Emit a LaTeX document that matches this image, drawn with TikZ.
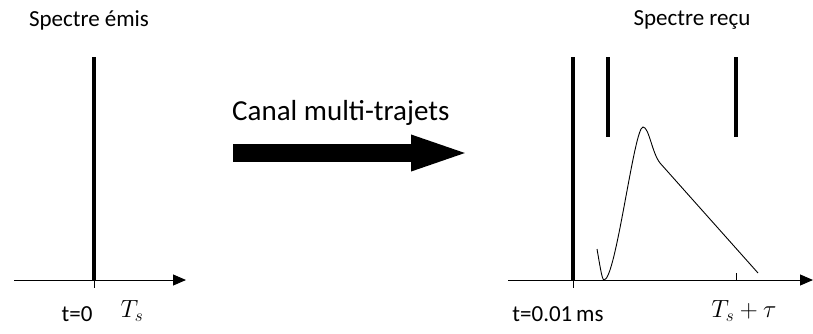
\documentclass[tikz,border=0pt]{standalone}
\usepackage{fontspec}
\setmainfont{Carlito}
\usetikzlibrary{arrows.meta}

\tikzset{
    axis/.style={line width=1pt, -{Triangle[length=13pt, width=11pt]}},
    spike/.style={line width=4.5pt},
    tick/.style={line width=0.8pt},
    axislabel/.style={font=\fontsize{23}{27}\selectfont, inner sep=1pt},
    mathlabel/.style={font=\fontsize{25}{28}\selectfont, inner sep=1pt},
}

\begin{document}
\begin{tikzpicture}[x=1pt, y=-1pt]
    \useasboundingbox (0,0) rectangle (813,333);

    % Emitted signal
    \begin{scope}
        % Axes
        \coordinate (e0) at (14,280);
        \coordinate (e1) at (186,280);
        \draw[axis] (e0) -- (e1);
        \coordinate (etop) at (94,57);
        \coordinate (ebot) at (94,280);
        \coordinate (etick) at (94,288);
        \draw[spike] (etop) -- (ebot);
        \draw[tick] (ebot) -- (etick);

        \node[axislabel] (emis) at (89,20) {Spectre émis};
        \node[axislabel] (tzero) at (77,314) {t=0};
        \node[mathlabel] (ts) at (132,311) {$T_s$};
    \end{scope}

    % Channel arrow
    \coordinate (c0) at (233,153);
    \coordinate (c1) at (473,153);
    \draw[line width=18pt, -{Triangle[length=62pt, width=31pt]}] (c0) -- (c1);
    \node[font=\fontsize{29}{33}\selectfont, anchor=west, inner sep=0pt] (canal) at (232,113) {Canal multi-trajets};

    % Received signal
    \begin{scope}
        % Axes
        \coordinate (r0) at (508,280);
        \coordinate (r1) at (813,280);
        \draw[axis] (r0) -- (r1);
        \coordinate (rtop) at (573,57);
        \coordinate (rbot) at (573,280);
        \coordinate (rtick) at (573,288);
        \draw[spike] (rtop) -- (rbot);
        \draw[tick] (rbot) -- (rtick);

        % echoes
        \coordinate (atop) at (608,57);
        \coordinate (abot) at (608,137);
        \draw[spike] (atop) -- (abot);
        \coordinate (btop) at (736,57);
        \coordinate (bbot) at (736,137);
        \draw[spike] (btop) -- (bbot);
        \coordinate (btick) at (736,273);
        \coordinate (baxis) at (736,280);
        \draw[tick] (btick) -- (baxis);

        % diffuse part
        \draw[line width=0.9pt] (597,249) .. controls (600,266) and (602,280) .. (604,280)
            .. controls (616,280) and (634,127) .. (643,127)
            .. controls (649,127) and (652,153) .. (660,163)
            -- (758,273);

        \node[axislabel] (recu) at (692,20) {Spectre reçu};
        \node[axislabel] (tdelay) at (558,314) {t=0.01\,ms};
        \node[mathlabel] (tstau) at (744,311) {$T_s+\tau$};
    \end{scope}
\end{tikzpicture}
\end{document}
